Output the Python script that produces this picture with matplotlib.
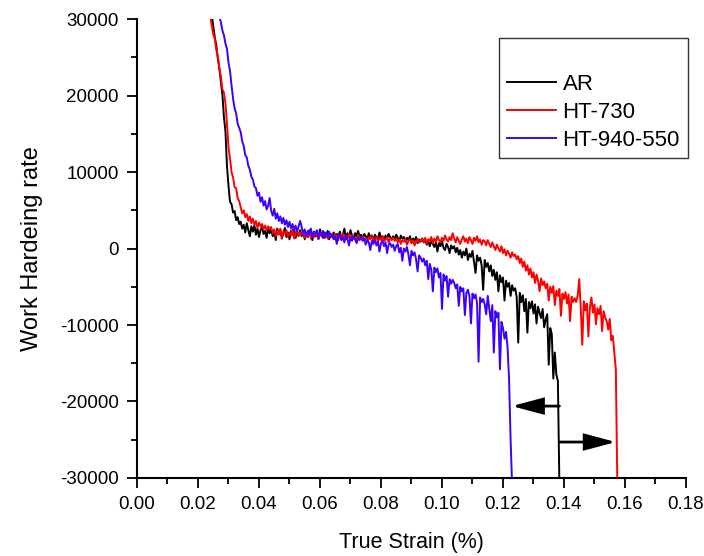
import numpy as np
import matplotlib; matplotlib.use("Agg")
import matplotlib.pyplot as plt
from matplotlib.ticker import MultipleLocator, FormatStrFormatter

plt.rcParams["font.family"] = ["Liberation Sans", "DejaVu Sans"]

# strain sampling of the readings below (start, step)
STRAIN_START, STRAIN_STEP = 0.024, 0.0005

# work hardening rate, in thousands; one row = 0.01 strain
ar = [32.0, 30.6, 29.1, 27.6, 26.6, 24.8, 23.6, 21.8, 20.1, 17.2, 15.3, 10.8, 8.2, 6.1, 5.8, 4.7, 4.9, 3.7, 4.1, 3.2,
      3.5, 2.6, 3.1, 2.1, 3.3, 2.4, 1.6, 2.9, 2.2, 3.0, 1.8, 2.6, 1.5, 2.4, 2.8, 1.9, 2.3, 1.4, 2.7, 2.0,
      2.5, 1.6, 2.2, 1.1, 2.6, 1.9, 2.4, 1.3, 2.0, 2.7, 1.5, 2.1, 1.2, 2.3, 1.8, 2.6, 1.4, 2.0, 1.7, 2.4,
      1.6, 2.3, 1.2, 2.0, 1.5, 2.4, 1.7, 1.1, 2.2, 1.6, 2.0, 1.3, 2.5, 1.8, 1.4, 2.1, 1.6, 2.3, 1.2, 1.9,
      1.5, 2.1, 1.3, 1.9, 1.6, 2.2, 1.4, 1.8, 2.6, 1.2, 2.0, 1.5, 2.4, 1.7, 1.3, 2.0, 1.6, 2.3, 1.4, 1.8,
      1.3, 1.9, 1.6, 1.2, 2.0, 1.4, 1.7, 1.1, 1.8, 1.5, 1.2, 2.1, 1.4, 1.6, 1.0, 1.7, 1.3, 1.9, 1.5, 1.2,
      1.6, 1.2, 1.8, 1.4, 1.0, 1.7, 1.3, 1.5, 0.9, 1.4, 1.1, 1.6, 0.8, 1.3, 1.0, 1.5, 0.7, 1.2, 0.9, 1.3,
      0.8, 1.1, 0.5, 0.9, 0.3, 1.0, 0.6, 0.2, 0.8, -0.4, 0.7, 0.3, 0.9, 0.1, -0.2, 0.6, 0.2, -0.6, 0.4, 0.0,
      0.3, -0.5, 0.1, -0.8, -0.2, -1.2, -0.4, -0.9, 0.0, -1.5, -0.7, -1.1, -0.3, -1.8, -3.2, -0.9, -1.6, -1.2, -2.2, -5.4,
      -1.5, -2.4, -1.9, -3.0, -2.2, -3.6, -2.8, -4.1, -3.1, -5.6, -3.5, -4.4, -3.8, -6.8, -4.2, -5.0, -4.5, -6.2, -4.8, -5.5,
      -5.2, -6.4, -12.3, -5.8, -7.0, -6.1, -8.2, -6.6, -11.0, -7.0, -7.8, -6.9, -8.5, -7.3, -9.8, -7.6, -8.4, -9.1, -7.9, -10.3,
      -9.3, -8.6, -15.2, -10.4, -11.2, -17.0, -13.6, -16.5, -17.3, -31.0]

ht730 = [30.4, 29.2, 28.0, 27.4, 26.0, 25.2, 23.5, 22.5, 20.8, 20.4, 19.0, 16.3, 13.2, 11.8, 10.0, 9.3, 8.0, 7.9, 6.6, 6.2,
         5.4, 4.6, 5.0, 4.1, 4.5, 3.6, 4.2, 3.3, 3.9, 3.1, 3.6, 2.7, 3.4, 2.9, 3.2, 2.5, 3.0, 2.4, 2.9, 2.6,
         2.8, 2.0, 2.5, 1.6, 2.3, 1.8, 2.6, 1.4, 2.2, 1.9, 2.4, 1.5, 2.1, 1.7, 2.5, 1.3, 2.0, 2.3, 1.6, 2.1,
         1.8, 2.2, 1.4, 2.0, 1.6, 2.3, 1.3, 1.9, 1.5, 2.1, 1.7, 1.2, 2.0, 1.6, 2.2, 1.4, 1.8, 1.3, 2.0, 1.5,
         1.7, 1.3, 1.9, 1.5, 1.1, 1.8, 1.4, 2.0, 1.2, 1.6, 1.4, 1.9, 1.1, 1.7, 1.3, 1.5, 1.0, 1.8, 1.4, 1.2,
         1.6, 1.1, 1.4, 0.9, 1.5, 1.2, 1.7, 1.0, 1.3, 1.5, 0.9, 1.4, 1.1, 1.6, 1.0, 1.2, 1.5, 0.8, 1.3, 1.1,
         1.4, 1.0, 1.3, 0.8, 1.2, 0.6, 1.1, 0.9, 1.3, 0.5, 1.0, 1.2, 0.7, 1.1, 0.4, 0.9, 1.2, 0.8, 1.0, 1.3,
         0.9, 1.4, 0.6, 1.2, 1.0, 1.5, 0.7, 1.3, 0.9, 1.6, 1.1, 0.8, 1.4, 1.0, 1.7, 1.2, 0.9, 1.5, 1.1, 2.0,
         1.3, 0.8, 1.5, 1.0, 0.6, 1.2, 1.6, 0.9, 1.3, 0.7, 1.5, 1.1, 0.6, 1.4, 1.0, 1.6, 0.8, 1.2, 0.5, 1.1,
         0.9, 0.4, 1.1, 0.6, 0.2, 0.8, 0.3, -0.2, 0.5, 0.0, -0.4, 0.3, -0.6, -0.1, -0.9, -0.3, -0.7, -1.2, -0.5, -1.0,
         -0.8, -1.4, -1.0, -1.9, -1.3, -2.4, -1.7, -2.9, -2.2, -3.4, -2.6, -3.8, -3.1, -4.5, -3.4, -4.2, -5.6, -3.9, -4.8, -4.3,
         -5.2, -4.6, -6.8, -5.0, -5.8, -4.9, -7.4, -5.5, -6.2, -5.3, -8.8, -5.9, -6.6, -5.7, -7.2, -6.0, -9.5, -6.3, -7.0, -6.5,
         -7.0, -6.1, -4.0, -7.8, -12.6, -6.9, -8.1, -7.2, -11.5, -7.6, -6.4, -8.4, -7.3, -9.9, -7.8, -8.6, -7.5, -10.8, -8.2, -9.0,
         -9.5, -10.6, -9.2, -12.0, -11.4, -13.6, -15.8, -31.0]

ht940 = [36.0, 35.0, 34.0, 33.0, 32.0, 31.2, 30.3, 29.6, 28.5, 27.9, 26.8, 26.1, 24.3, 23.2, 21.3, 19.6, 18.3, 17.7, 16.3, 15.8,
         15.2, 14.0, 13.4, 12.2, 11.9, 10.8, 10.3, 9.4, 9.0, 8.1, 7.9, 6.9, 7.3, 6.1, 6.7, 5.6, 6.2, 5.1, 5.6, 6.6,
         4.9, 4.3, 5.2, 3.9, 4.6, 3.6, 4.2, 3.3, 4.0, 3.1, 3.7, 2.8, 3.5, 2.6, 3.2, 2.4, 3.0, 2.2, 2.9, 3.6,
         2.8, 1.9, 2.5, 1.6, 2.3, 1.8, 2.6, 1.5, 2.2, 1.9, 2.4, 1.3, 2.1, 1.7, 2.3, 1.4, 2.0, 1.6, 2.2, 1.5,
         1.8, 1.2, 1.6, 0.6, 1.5, 1.9, 1.1, 1.4, 0.8, 1.7, 1.3, 0.4, 1.5, 1.0, 1.6, 1.2, 0.7, 1.4, 1.1, 1.5,
         1.0, 1.3, 0.5, 1.1, 0.8, -0.2, 1.0, 0.6, 1.2, 0.4, 0.9, -0.4, 0.7, 1.0, 0.3, 0.8, -0.6, 0.5, 0.7, 0.2,
         0.5, -0.3, 0.3, 0.6, -0.5, 0.1, -1.6, 0.0, -0.4, 0.2, -0.8, -2.2, -0.3, -0.9, -0.5, -1.4, -3.0, -0.9, -1.2, -1.7,
         -1.3, -2.2, -1.6, -4.0, -2.0, -2.8, -5.6, -2.5, -3.1, -2.6, -3.8, -3.2, -7.9, -3.4, -4.2, -3.6, -6.3, -4.0, -4.6, -4.1,
         -4.5, -5.2, -4.7, -7.5, -5.0, -5.6, -5.2, -8.7, -5.8, -5.4, -6.2, -9.8, -5.9, -6.5, -6.0, -7.2, -14.8, -6.4, -7.0, -6.6,
         -7.3, -8.6, -6.2, -7.8, -9.5, -7.4, -13.6, -8.2, -9.0, -8.4, -15.8, -9.6, -10.4, -11.8, -10.9, -12.9, -17.2, -25.0, -31.0]

labels = ["AR", "HT-730", "HT-940-550"]
colors = ["black", "#ff0000", "#3c00ff"]

# arrows from the AR fracture strain out to the other two
arrow_from = 0.1385
arrow_to = [0.1229, 0.1570]
arrow_y = [-20600, -25300]


fig = plt.figure(figsize=(7.04, 5.56), dpi=100)
ax = fig.add_axes([0.1946, 0.1403, 0.7798, 0.8255])

for vals, lab, col in zip([ar, ht730, ht940], labels, colors):
    y = np.array(vals) * 1000
    x = STRAIN_START + STRAIN_STEP * np.arange(len(y))
    ax.plot(x, y, color=col, lw=1.4, label=lab)

for xt, ya in zip(arrow_to, arrow_y):
    ax.annotate("", xy=(xt, ya), xytext=(arrow_from, ya),
                arrowprops=dict(arrowstyle="-|>,head_length=1.05,head_width=0.28", color="black",
                                lw=2, mutation_scale=18, shrinkA=0, shrinkB=0, joinstyle="miter"))

ax.set_xlim(0, 0.18)
ax.set_ylim(-30000, 30000)
ax.xaxis.set_major_locator(MultipleLocator(0.02))
ax.xaxis.set_minor_locator(MultipleLocator(0.01))
ax.yaxis.set_major_locator(MultipleLocator(10000))
ax.yaxis.set_minor_locator(MultipleLocator(5000))
ax.xaxis.set_major_formatter(FormatStrFormatter("%.2f"))
ax.yaxis.set_major_formatter(FormatStrFormatter("%d"))
ax.tick_params(which="major", direction="out", length=7, width=1.3, labelsize=13.5, pad=6)
ax.tick_params(which="minor", direction="out", length=4, width=1.3)
for sp in ["top", "right"]: ax.spines[sp].set_visible(False)
for sp in ["left", "bottom"]: ax.spines[sp].set_linewidth(1.5)

ax.set_xlabel("True Strain (%)", fontsize=15.5, labelpad=14)
ax.set_ylabel("Work Hardeing rate", fontsize=17, labelpad=12)

leg = ax.legend(loc="upper right", bbox_to_anchor=(1.003, 0.959), borderaxespad=0, fontsize=16,
                title=" ", title_fontsize=17, frameon=True, fancybox=False, handlelength=2.2,
                handletextpad=0.3, labelspacing=0.3, borderpad=0.35)
leg.get_frame().set_edgecolor("black")
leg.get_frame().set_linewidth(1.0)

fig.savefig("out.png", dpi=100, facecolor="white")
